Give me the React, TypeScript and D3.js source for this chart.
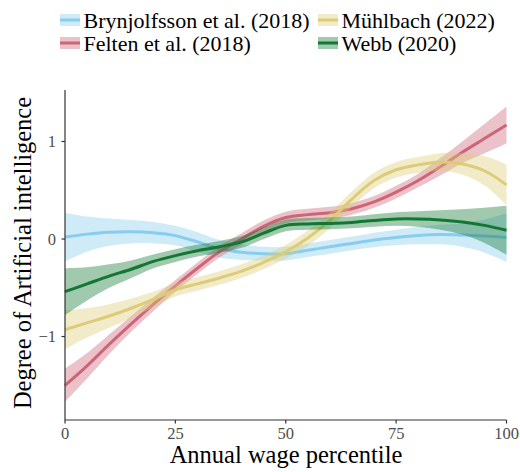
import React from "react";
import * as d3 from "d3";

const xs = [0, 5, 10, 15, 20, 25, 30, 35, 40, 45, 50, 55, 60, 65, 70, 75, 80, 85, 90, 95, 100];

const brynjolfsson = [0.02, 0.05, 0.07, 0.075, 0.065, 0.035, -0.03, -0.1, -0.135, -0.15, -0.15, -0.115, -0.08, -0.045, -0.01, 0.015, 0.035, 0.045, 0.04, 0.03, 0.015];
const brynjolfssonSe = [0.25, 0.18, 0.14, 0.12, 0.11, 0.1, 0.1, 0.09, 0.08, 0.07, 0.07, 0.07, 0.07, 0.07, 0.075, 0.08, 0.09, 0.1, 0.12, 0.17, 0.25];

const felten = [-1.5, -1.3, -1.08, -0.87, -0.67, -0.48, -0.3, -0.13, 0.0, 0.13, 0.22, 0.25, 0.27, 0.31, 0.38, 0.48, 0.6, 0.74, 0.89, 1.03, 1.17];
const feltenSe = [0.17, 0.13, 0.1, 0.08, 0.07, 0.06, 0.06, 0.06, 0.06, 0.06, 0.06, 0.06, 0.06, 0.06, 0.06, 0.065, 0.07, 0.09, 0.11, 0.15, 0.19];

const muhlbach = [-0.93, -0.86, -0.79, -0.71, -0.62, -0.52, -0.46, -0.4, -0.33, -0.24, -0.13, 0.01, 0.19, 0.41, 0.6, 0.71, 0.76, 0.79, 0.77, 0.7, 0.555];
const muhlbachSe = [0.2, 0.15, 0.12, 0.1, 0.08, 0.07, 0.07, 0.07, 0.07, 0.07, 0.07, 0.08, 0.08, 0.08, 0.08, 0.08, 0.08, 0.09, 0.11, 0.15, 0.21];

const webb = [-0.54, -0.46, -0.38, -0.31, -0.23, -0.17, -0.12, -0.08, -0.03, 0.06, 0.14, 0.155, 0.16, 0.17, 0.19, 0.205, 0.205, 0.195, 0.175, 0.14, 0.09];
const webbSe = [0.24, 0.17, 0.12, 0.09, 0.07, 0.065, 0.06, 0.06, 0.06, 0.06, 0.06, 0.06, 0.06, 0.06, 0.065, 0.07, 0.08, 0.1, 0.13, 0.18, 0.25];

const seriesNames = ["Brynjolfsson et al. (2018)", "Felten et al. (2018)", "Mühlbach (2022)", "Webb (2020)"];
const seriesColors = ["#88CCEE", "#CC6677", "#DDCC77", "#117733"];
const seriesValues = [brynjolfsson, felten, muhlbach, webb];
const seriesSe = [brynjolfssonSe, feltenSe, muhlbachSe, webbSe];

const xTicks = [0, 25, 50, 75, 100];
const yTicks = [-1, 0, 1];

const W = 520, H = 472;
const FONT = '"Liberation Serif", "Times New Roman", Times, serif';

export default function App() {
  const x = d3.scaleLinear().domain([0, 100]).range([65, 506.5]);
  const y = d3.scaleLinear().domain([-1.856, 1.528]).range([420, 90]);

  const line = d3.line<[number, number]>().x(d => x(d[0])).y(d => y(d[1])).curve(d3.curveCatmullRom.alpha(0.5));
  const area = d3.area<[number, number, number]>()
    .x(d => x(d[0])).y0(d => y(d[1] - d[2])).y1(d => y(d[1] + d[2]))
    .curve(d3.curveCatmullRom.alpha(0.5));

  const data = seriesValues.map((vals, i) => ({
    name: seriesNames[i],
    color: seriesColors[i],
    pts: xs.map((xx, j) => [xx, vals[j], seriesSe[i][j]] as [number, number, number]),
  }));

  const legendPos = [
    { x: 60, y: 20 },
    { x: 60, y: 43 },
    { x: 318, y: 20 },
    { x: 318, y: 43 },
  ];

  const ts = { fontFamily: FONT };

  return (
    <svg width={W} height={H} style={{ position: "absolute", left: 0, top: 0, fontFamily: FONT }}>
      <rect width={W} height={H} fill="#fff" />
      {data.map((s, i) => (
        <g key={s.name} transform={`translate(${legendPos[i].x},${legendPos[i].y})`}>
          <rect x={0} y={-6} width={20} height={12} fill={s.color} opacity={0.4} />
          <line x1={0} x2={20} y1={0} y2={0} stroke={s.color} strokeWidth={3} />
          <text x={23.5} y={7.5} fontSize={22} fill="#000" style={ts}>{s.name}</text>
        </g>
      ))}
      {data.map(s => (
        <g key={s.name + "g"}>
          <path d={area(s.pts) || ""} fill={s.color} opacity={0.4} />
          <path d={line(s.pts.map(p => [p[0], p[1]] as [number, number])) || ""} fill="none" stroke={s.color} strokeWidth={3} />
        </g>
      ))}
      <line x1={65} x2={65} y1={90} y2={420} stroke="#333" strokeWidth={1.2} />
      <line x1={65} x2={506.5} y1={420} y2={420} stroke="#333" strokeWidth={1.2} />
      {yTicks.map(t => (
        <g key={"y" + t}>
          <line x1={61.5} x2={65} y1={y(t)} y2={y(t)} stroke="#333" strokeWidth={1.2} />
          <text x={56} y={y(t)} dy="0.35em" textAnchor="end" fontSize={16.5} fill="#4d4d4d" style={ts}>{t < 0 ? "\u2212" + Math.abs(t) : t}</text>
        </g>
      ))}
      {xTicks.map(t => (
        <g key={"x" + t}>
          <line x1={x(t)} x2={x(t)} y1={420} y2={423.5} stroke="#333" strokeWidth={1.2} />
          <text x={x(t)} y={438.5} textAnchor="middle" fontSize={16.5} fill="#4d4d4d" style={ts}>{t}</text>
        </g>
      ))}
      <text x={286} y={463} textAnchor="middle" fontSize={24.5} fill="#000" style={ts}>Annual wage percentile</text>
      <text transform={`translate(31,253) rotate(-90)`} textAnchor="middle" fontSize={24.5} fill="#000" style={ts}>Degree of Artificial intelligence</text>
    </svg>
  );
}
